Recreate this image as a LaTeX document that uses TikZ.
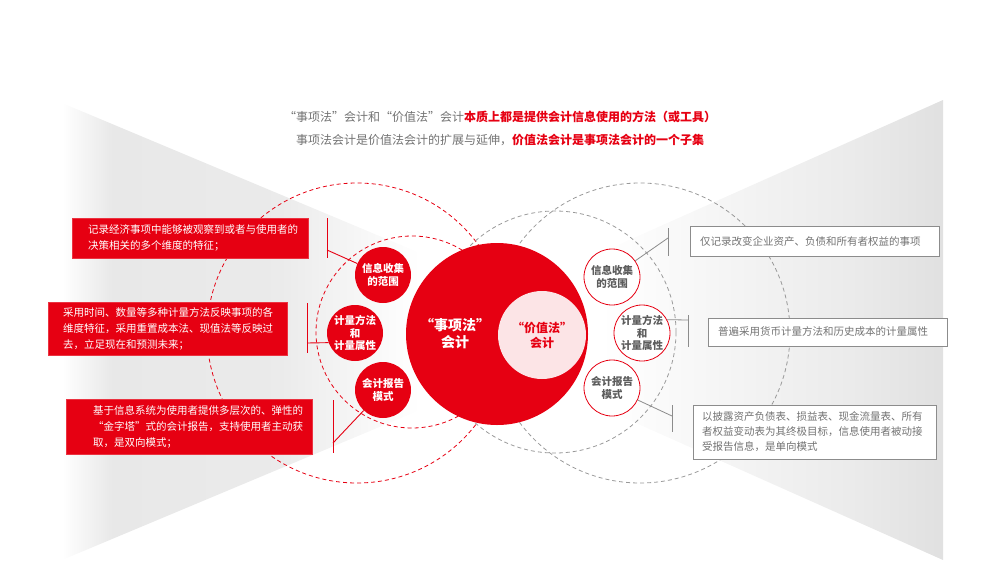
\documentclass[tikz,border=0pt]{standalone}
\usepackage{fontspec}
\setmainfont{Noto Sans CJK SC}
\usepackage{xcolor}

\definecolor{hongse}{HTML}{E60012}
\definecolor{fenhong}{HTML}{FCE4E6}
\definecolor{huizi}{HTML}{737373}
\definecolor{huixian}{HTML}{8C8C8C}

\pgfdeclarehorizontalshading{zuoying}{100bp}{color(0bp)=(white); color(25bp)=(white); color(32bp)=(black!9); color(55bp)=(black!8); color(75bp)=(white); color(100bp)=(white)}
\pgfdeclarehorizontalshading{youying}{100bp}{color(0bp)=(white); color(25bp)=(white); color(62bp)=(black!8); color(75bp)=(black!12); color(100bp)=(black!12)}

\newcommand{\kuangwen}[3]{\hspace*{#1}\parbox{#2}{\raggedright #3}}

\begin{document}
\begin{tikzpicture}[x=1pt, y=-1pt,
    hongkuang/.style={fill=hongse, draw=hongse!80!white, line width=0.5pt, inner sep=0pt, text=white, font=\fontsize{10.5}{16}\selectfont},
    huikuang/.style={fill=white, draw=huixian, line width=0.8pt, inner sep=0pt, text=huizi, font=\fontsize{10.5}{15}\selectfont},
    hongyuan/.style={circle, fill=hongse, minimum size=56pt, inner sep=0pt, text=white, align=center, font=\bfseries\fontsize{10.5}{12.5}\selectfont},
    baiyuan/.style={circle, fill=white, draw=hongse, line width=0.8pt, minimum size=56pt, inner sep=0pt, text=huizi!80!black, align=center, font=\bfseries\fontsize{10.5}{12.5}\selectfont},
    hongxian/.style={hongse, line width=0.9pt},
    huixianduan/.style={huixian, line width=0.8pt},
    xuquan/.style={dash pattern=on 4pt off 3pt, line width=0.8pt}]

    \useasboundingbox (0,0) rectangle (1000,562);

    % grey wedges behind everything
    \shade[shading=zuoying] (62,103) -- (420,253) -- (420,410) -- (62,560) -- cycle;
    \shade[shading=youying] (600,253) -- (943,100) -- (943,560) -- (600,407) -- cycle;

    % title lines
    \node[font=\fontsize{12}{14}\selectfont, text=huizi] (biaoti1) at (500,117)
        {“事项法”会计和“价值法”会计\textcolor{hongse}{\bfseries 本质上都是提供会计信息使用的方法（或工具）}};
    \node[font=\fontsize{12}{14}\selectfont, text=huizi] (biaoti2) at (500,140)
        {事项法会计是价值法会计的扩展与延伸，\textcolor{hongse}{\bfseries 价值法会计是事项法会计的一个子集}};

    % dashed rings
    \draw[xuquan, hongse] (357,333) circle (150pt);
    \draw[xuquan, hongse] (412,332) circle (96pt);
    \draw[xuquan, black!40] (640,333) circle (150pt);
    \draw[xuquan, black!40] (555,332) circle (121pt);

    % the two main circles
    \node[circle, fill=hongse, minimum size=182pt, inner sep=0pt] (shixiang) at (497,334) {};
    \node[circle, fill=fenhong, minimum size=88pt, inner sep=0pt, text=hongse, align=center,
        font=\bfseries\fontsize{12}{15}\selectfont] (jiazhi) at (542,335) {“价值法”\\会计};
    \node[text=white, align=center, font=\bfseries\fontsize{14}{17}\selectfont] (shixiangzi) at (455,334) {“事项法”\\会计};

    % small circles, left
    \node[hongyuan] (xinxi) at (383,275) {信息收集\\的范围};
    \node[hongyuan] (jiliang) at (355,333) {计量方法\\和\\计量属性};
    \node[hongyuan] (baogao) at (383,390) {会计报告\\模式};

    % small circles, right
    \node[baiyuan] (xinxiR) at (612,277) {信息收集\\的范围};
    \node[baiyuan] (jiliangR) at (642,333) {计量方法\\和\\计量属性};
    \node[baiyuan] (baogaoR) at (612,388) {会计报告\\模式};

    % red boxes
    \node[hongkuang, minimum height=40pt] (jilu) at (190,238)
        {\kuangwen{16pt}{220pt}{记录经济事项中能够被观察到或者与使用者的\\决策相关的多个维度的特征；}};
    \node[hongkuang, minimum height=53pt] (caiyong) at (167.5,328.5)
        {\kuangwen{15pt}{224pt}{采用时间、数量等多种计量方法反映事项的各\\维度特征，采用重置成本法、现值法等反映过\\去，立足现在和预测未来；}};
    \node[hongkuang, minimum height=55pt] (jiyu) at (189,426.5)
        {\kuangwen{27pt}{219pt}{基于信息系统为使用者提供多层次的、弹性的\\“金字塔”式的会计报告，支持使用者主动获\\取，是双向模式；}};

    % grey boxes
    \node[huikuang, minimum height=30pt] (jinjilu) at (814.5,241)
        {\kuangwen{10pt}{239pt}{仅记录改变企业资产、负债和所有者权益的事项}};
    \node[huikuang, minimum height=28pt] (pubian) at (827.5,332)
        {\kuangwen{10pt}{229pt}{普遍采用货币计量方法和历史成本的计量属性}};
    \node[huikuang, minimum height=54pt] (pilu) at (814.5,432)
        {\kuangwen{9pt}{234pt}{以披露资产负债表、损益表、现金流量表、所有\\者权益变动表为其终极目标，信息使用者被动接\\受报告信息，是单向模式}};

    % red ticks and leaders
    \coordinate (z1a) at (327,218); \coordinate (z1b) at (327,258); \coordinate (z1c) at (327,250);
    \coordinate (z2a) at (307,303); \coordinate (z2b) at (307,353); \coordinate (z2c) at (307,343);
    \coordinate (z3a) at (333,400); \coordinate (z3b) at (333,453); \coordinate (z3c) at (333,443);
    \draw[hongxian] (z1a) -- (z1b);
    \draw[hongxian] (z1c) -- (xinxi);
    \draw[hongxian] (z2a) -- (z2b);
    \draw[hongxian] (z2c) -- (jiliang.200);
    \draw[hongxian] (z3a) -- (z3b);
    \draw[hongxian] (z3c) -- (baogao);

    % grey ticks and leaders
    \coordinate (y1a) at (668,228); \coordinate (y1b) at (668,256); \coordinate (y1c) at (668,238);
    \coordinate (y2a) at (688,315); \coordinate (y2b) at (688,347); \coordinate (y2c) at (688,320);
    \coordinate (y3a) at (672,405); \coordinate (y3b) at (672,432); \coordinate (y3c) at (672,416);
    \draw[huixianduan] (y1a) -- (y1b);
    \draw[huixianduan] (y1c) -- (xinxiR);
    \draw[huixianduan] (y2a) -- (y2b);
    \draw[huixianduan] (y2c) -- (jiliangR.28);
    \draw[huixianduan] (y3a) -- (y3b);
    \draw[huixianduan] (y3c) -- (baogaoR);

\end{tikzpicture}
\end{document}
